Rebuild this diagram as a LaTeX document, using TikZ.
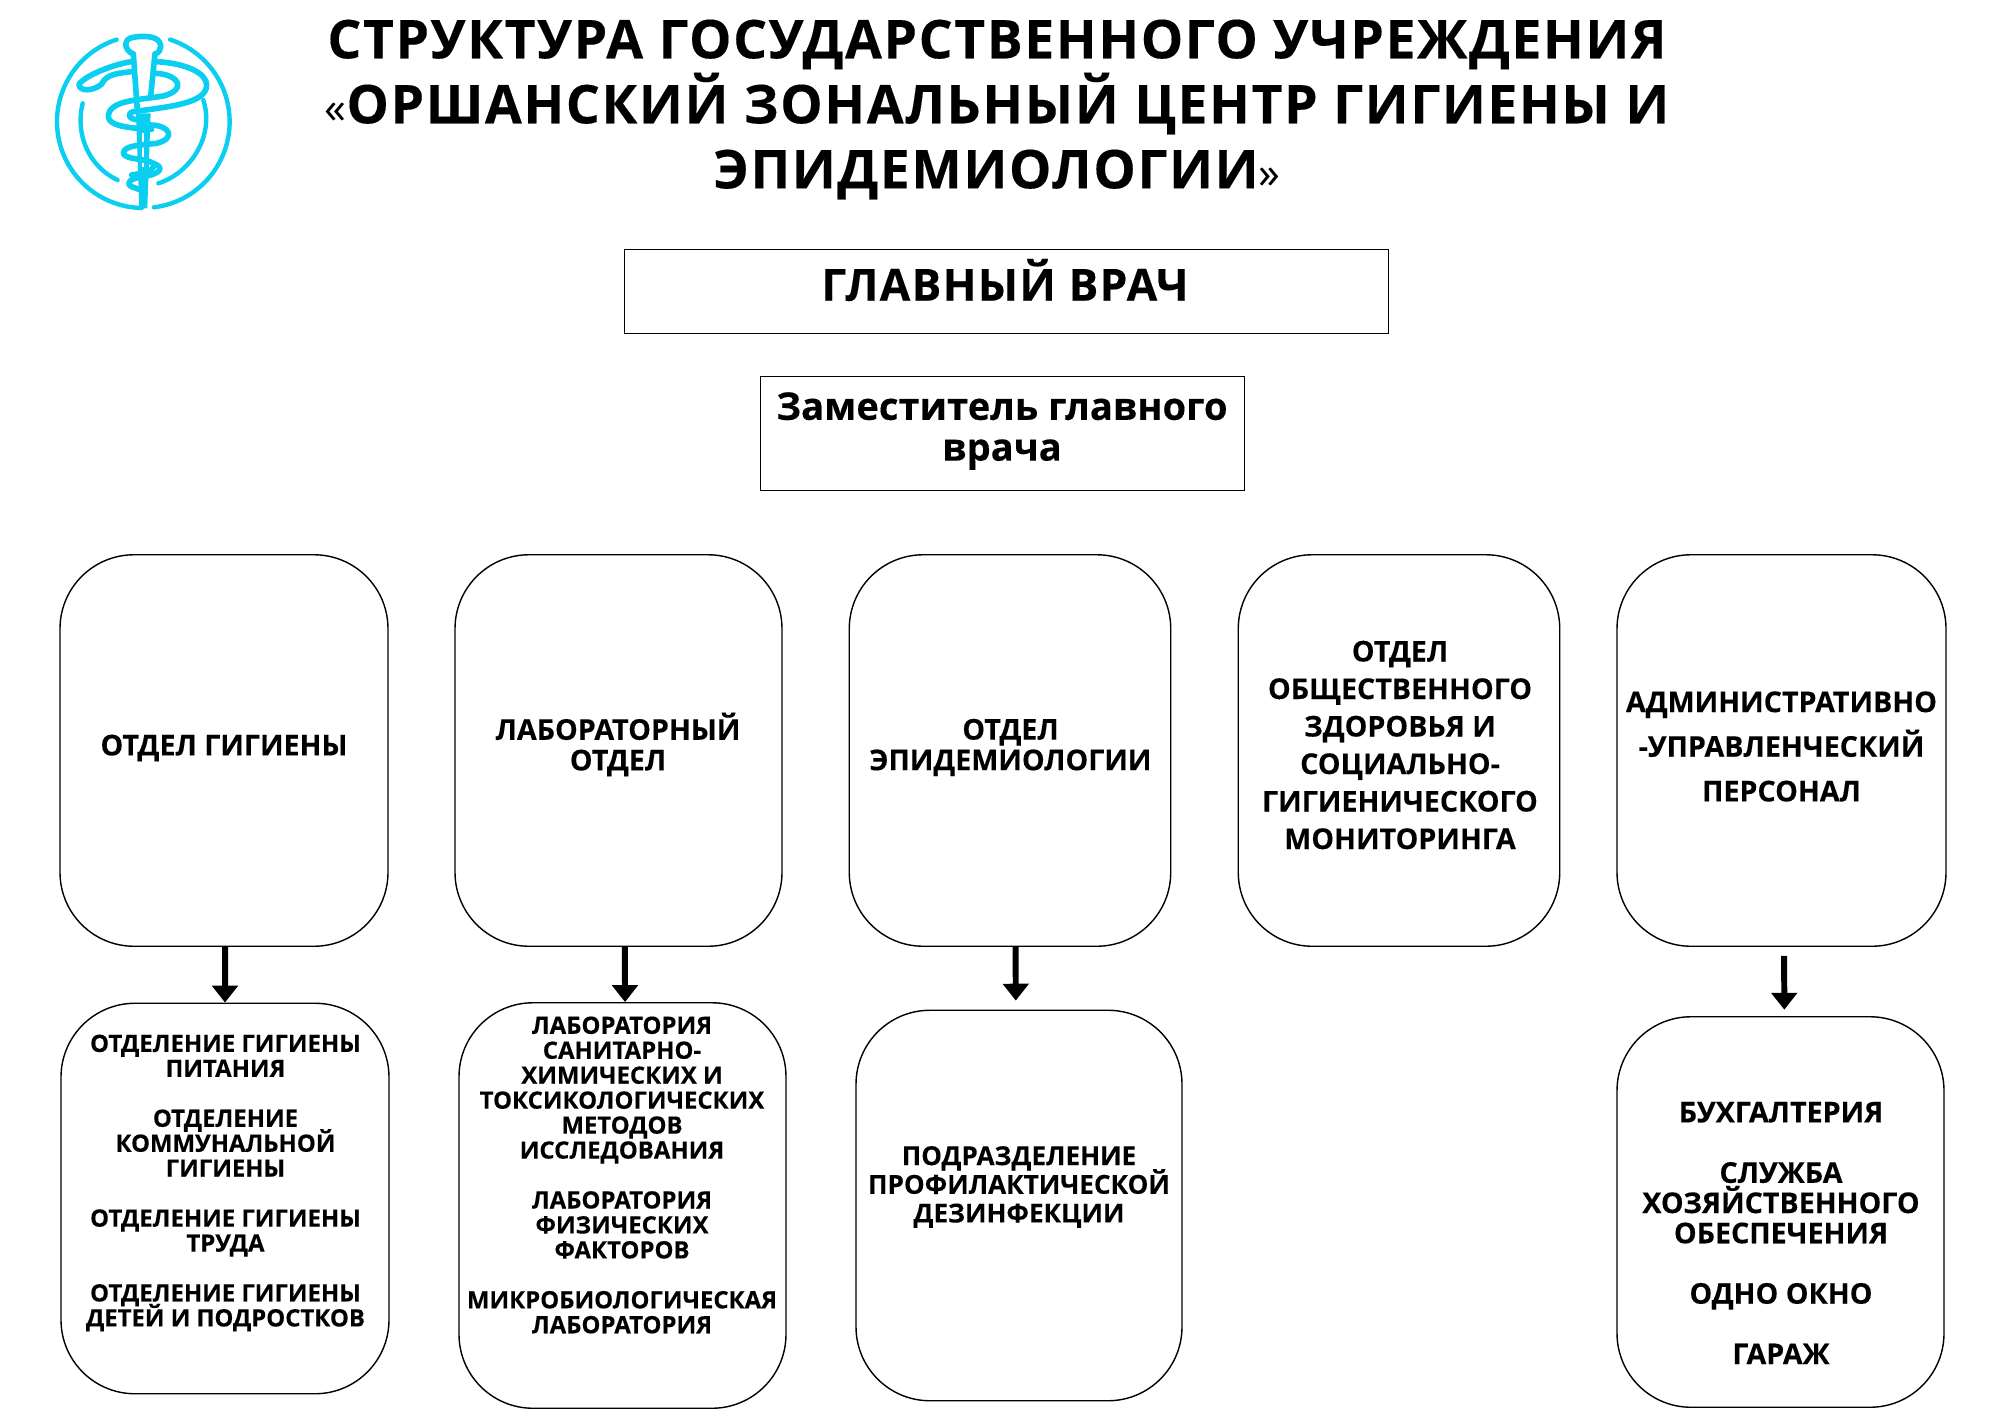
\documentclass[tikz,border=0pt]{standalone}
\usepackage{fontspec}
\setmainfont{Open Sans}[BoldFeatures={FakeBold=0.25}]
\newfontfamily\spaced[LetterSpace=3,BoldFeatures={FakeBold=0.25}]{Open Sans}
\usetikzlibrary{arrows.meta}

\definecolor{logocyan}{HTML}{0ACFF0}

\newcommand{\lsize}[2]{\fontsize{#1pt}{#2pt}\selectfont\lineskiplimit=-30pt}
\newcommand{\thinquote}[1]{{\mdseries\fontsize{12.5pt}{12.5pt}\selectfont #1}}

\begin{document}
\begin{tikzpicture}[x=1cm, y=1cm]
        \tikzstyle{head}=[rectangle,draw=black,line width=0.25pt,fill=white,inner sep=0pt]
        \tikzstyle{dept}=[rectangle,rounded corners=0.74cm,draw=black,line width=0.4pt,fill=white,inner sep=0pt,minimum width=3.28cm,minimum height=3.915cm]
        \tikzstyle{unit}=[dept,minimum width=3.27cm,minimum height=3.905cm]
        \tikzstyle{label}=[inner sep=0pt,align=center,font=\bfseries]
        \tikzstyle{link}=[-{Triangle[length=4.8pt,width=7.2pt]},line width=1.7pt,black]
        \tikzstyle{ring}=[line width=1.25pt,draw=logocyan,line cap=round,line join=round]
        \tikzstyle{snake}=[ring,line width=1.6pt]

        \useasboundingbox (0,0) rectangle (20,-14.14);

        % title
        \node[label,font=\bfseries\spaced\lsize{15.2}{18.5}] (title) at (9.97,-1.095) {СТРУКТУРА ГОСУДАРСТВЕННОГО УЧРЕЖДЕНИЯ\\\thinquote{«}ОРШАНСКИЙ ЗОНАЛЬНЫЙ ЦЕНТР ГИГИЕНЫ И\\ЭПИДЕМИОЛОГИИ\thinquote{»}};

        % top of the chart
        \node[head,minimum width=7.64cm,minimum height=0.84cm] (chief) at (10.06,-2.91) {};
        \node[label,font=\bfseries\spaced\lsize{12.6}{14}] (chieftext) at (10.05,-2.80) {ГЛАВНЫЙ ВРАЧ};
        \node[head,minimum width=4.84cm,minimum height=1.14cm] (deputy) at (10.02,-4.33) {};
        \node[label,font=\bfseries\lsize{10.85}{11.6}] (deputytext) at (10.02,-4.31) {Заместитель главного\\врача};

        % departments
        \node[dept] (hyg) at (2.24,-7.505) {};
        \node[dept, right of=hyg, node distance=3.945cm, minimum width=3.27cm] (lab) {};
        \node[dept, right of=lab, node distance=3.915cm, minimum width=3.215cm] (epid) {};
        \node[dept, right of=epid, node distance=3.89cm, minimum width=3.215cm] (mon) {};
        \node[dept, right of=mon, node distance=3.825cm, minimum width=3.29cm] (adm) {};

        \node[label,font=\bfseries\lsize{8.15}{8.7}] (hygtext) at (2.24,-7.48) {ОТДЕЛ ГИГИЕНЫ};
        \node[label,font=\bfseries\lsize{8.15}{8.7}] (labtext) at (6.18,-7.445) {ЛАБОРАТОРНЫЙ\\ОТДЕЛ};
        \node[label,font=\bfseries\lsize{8.15}{8.7}] (epidtext) at (10.105,-7.475) {ОТДЕЛ\\ЭПИДЕМИОЛОГИИ};
        \node[label,font=\bfseries\lsize{8.15}{10.67}] (montext) at (14.0,-7.45) {ОТДЕЛ\\ОБЩЕСТВЕННОГО\\ЗДОРОВЬЯ И\\СОЦИАЛЬНО-\\ГИГИЕНИЧЕСКОГО\\МОНИТОРИНГА};
        \node[label,font=\bfseries\lsize{8.15}{12.7}] (admtext) at (17.815,-7.465) {АДМИНИСТРАТИВНО\\-УПРАВЛЕНЧЕСКИЙ\\ПЕРСОНАЛ};

        % sub units
        \node[unit, below of=hyg, node distance=4.48cm, xshift=0.01cm, minimum width=3.28cm] (hygsub) {};
        \node[unit, below of=lab, node distance=4.55cm, xshift=0.04cm, minimum height=4.055cm] (labsub) {};
        \node[unit, below of=epid, node distance=4.55cm, xshift=0.09cm, minimum width=3.26cm] (epidsub) {};
        \node[unit, below of=adm, node distance=4.615cm, xshift=-0.01cm] (admsub) {};

        \node[label,font=\bfseries\lsize{6.8}{7.1}] (hygsubtext) at (2.255,-11.83) {ОТДЕЛЕНИЕ ГИГИЕНЫ\\ПИТАНИЯ\\[7.1pt]ОТДЕЛЕНИЕ\\КОММУНАЛЬНОЙ\\ГИГИЕНЫ\\[7.1pt]ОТДЕЛЕНИЕ ГИГИЕНЫ\\ТРУДА\\[7.1pt]ОТДЕЛЕНИЕ ГИГИЕНЫ\\ДЕТЕЙ И ПОДРОСТКОВ};
        \node[label,font=\bfseries\lsize{6.8}{7.1}] (labsubtext) at (6.22,-11.75) {ЛАБОРАТОРИЯ\\САНИТАРНО-\\ХИМИЧЕСКИХ И\\ТОКСИКОЛОГИЧЕСКИХ\\МЕТОДОВ\\ИССЛЕДОВАНИЯ\\[7.1pt]ЛАБОРАТОРИЯ\\ФИЗИЧЕСКИХ\\ФАКТОРОВ\\[7.1pt]МИКРОБИОЛОГИЧЕСКАЯ\\ЛАБОРАТОРИЯ};
        \node[label,font=\bfseries\lsize{7.43}{8.16}] (epidsubtext) at (10.19,-11.87) {ПОДРАЗДЕЛЕНИЕ\\ПРОФИЛАКТИЧЕСКОЙ\\ДЕЗИНФЕКЦИИ};
        \node[label,font=\bfseries\lsize{8.15}{8.6}] (admsubtext) at (17.81,-12.33) {БУХГАЛТЕРИЯ\\[8.6pt]СЛУЖБА\\ХОЗЯЙСТВЕННОГО\\ОБЕСПЕЧЕНИЯ\\[8.6pt]ОДНО ОКНО\\[8.6pt]ГАРАЖ};

        \draw[link] ([xshift=0.3pt]hyg.south) -- ([xshift=0pt]hygsub.north);
        \draw[link] ([xshift=1.8pt]lab.south) -- ([xshift=0.73pt]labsub.north);
        \draw[link, shorten >=2.55pt] ([xshift=1.6pt]epid.south) -- ([xshift=-0.9pt]epidsub.north);
        \draw[link, shorten <=2.55pt, shorten >=1.8pt] ([xshift=0.73pt]adm.south) -- ([xshift=1.1pt]admsub.north);

        % logo
        \begin{scope}[shift={(0.30,-0.10)},x=1cm/300,y=-1cm/300]
            \draw[ring] (340,335)++(-108:259) arc[start angle=-108,end angle=-269,radius=259];
            \draw[ring] (340,335)++(83:259) arc[start angle=83,end angle=-72,radius=259];
            \draw[ring] (158,280) .. controls (135,370) and (175,470) .. (263,510);
            \draw[ring] (385,520) .. controls (480,490) and (555,380) .. (520,270);
            % rod
            \draw[snake] (310,132) .. controls (280,120) and (280,85) .. (310,82) .. controls (330,78) and (360,78) .. (375,85) .. controls (398,95) and (398,125) .. (375,132);
            \draw[snake] (310,132) -- (322,300);
            \draw[snake] (375,132) -- (362,260);
            \fill[logocyan] (318,310) -- (362,310) -- (352,595) -- (328,595) -- cycle;
            \draw[white,line width=0.6pt] (340,370) -- (340,470);
            % snake
            \draw[snake] (303,155) .. controls (245,165) and (170,195) .. (147,222) .. controls (145,245) and (190,245) .. (215,222) .. controls (230,190) and (270,190) .. (303,185);
            \draw[snake] (380,155) .. controls (470,160) and (530,190) .. (530,225) .. controls (530,280) and (420,290) .. (310,305) .. controls (290,310) and (295,328) .. (325,330);
            \draw[snake] (380,190) .. controls (450,195) and (470,240) .. (400,258) .. controls (330,270) and (235,270) .. (235,320) .. controls (235,350) and (310,355) .. (365,358);
            \draw[snake] (360,345) .. controls (420,345) and (440,385) .. (380,400) .. controls (340,405) and (280,405) .. (280,430) .. controls (285,450) and (350,445) .. (370,460) .. controls (400,470) and (400,490) .. (340,500) .. controls (300,505) and (285,520) .. (305,530) -- (345,545);
            \draw[snake] (305,495) .. controls (340,490) and (380,480) .. (370,460);
        \end{scope}
    \end{tikzpicture}
\end{document}
